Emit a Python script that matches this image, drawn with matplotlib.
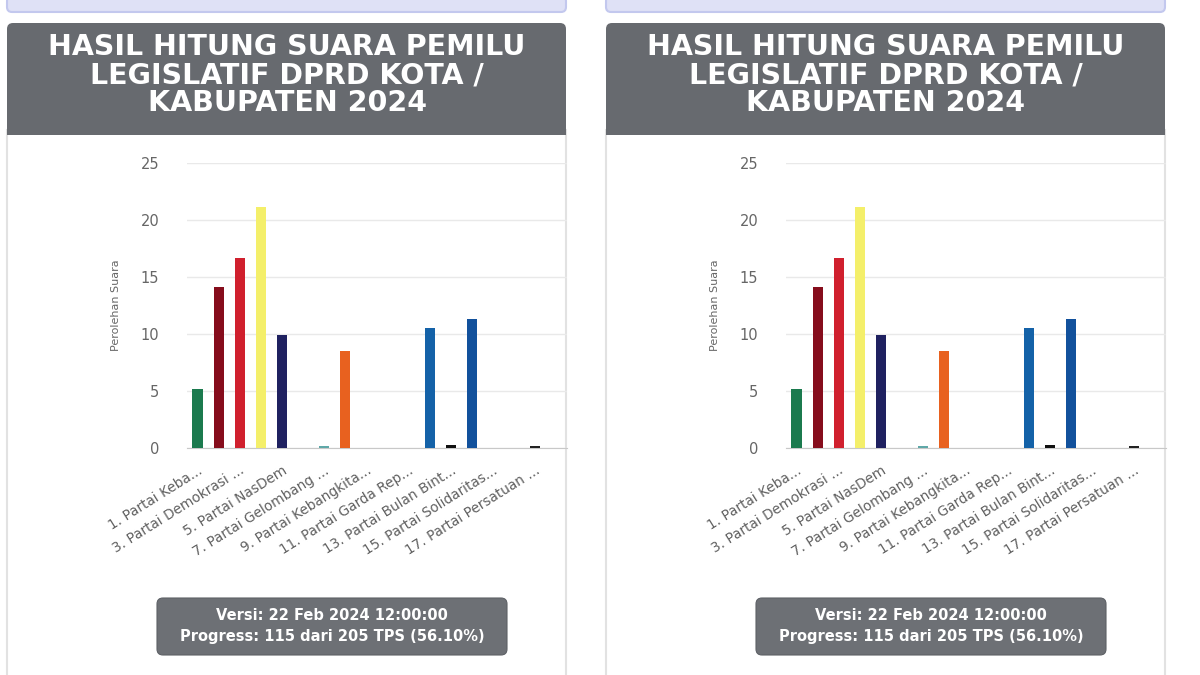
import matplotlib.pyplot as plt
from matplotlib.patches import FancyBboxPatch, Rectangle

# data (both panels show the same chart)
title_lines = ["HASIL HITUNG SUARA PEMILU", "LEGISLATIF DPRD KOTA /", "KABUPATEN 2024"]
party_labels = ["1. Partai Keba...", "2. Partai Gerak...", "3. Partai Demokrasi ...", "4. Partai Golon...",
                "5. Partai NasDem", "6. Partai Buruh", "7. Partai Gelombang ...", "8. Partai Keadi...",
                "9. Partai Kebangkita...", "10. Partai Hati ...", "11. Partai Garda Rep...", "12. Partai Amanat ...",
                "13. Partai Bulan Bint...", "14. Partai Demo...", "15. Partai Solidaritas...", "16. Partai Perindo",
                "17. Partai Persatuan ...", "24. Partai Ummat"]
votes = [5.2, 14.1, 16.7, 21.1, 9.95, 0, 0.15, 8.55, 0, 0, 0, 10.5, 0.3, 11.3, 0, 0, 0.15, 0]
bar_colors = ["#1b7a4e", "#860d1c", "#d0202e", "#f4ef6a", "#1f2160", "#888888", "#5fa8a8", "#e8611f",
              "#888888", "#888888", "#888888", "#1462a8", "#111111", "#12519c", "#888888", "#888888",
              "#222222", "#888888"]
y_ticks = [0, 5, 10, 15, 20, 25]
footer_lines = ["Versi: 22 Feb 2024 12:00:00", "Progress: 115 dari 205 TPS (56.10%)"]

W, H = 1200, 675
fig = plt.figure(figsize=(W / 100, H / 100), dpi=100)
fig.patch.set_facecolor("white")

# background axes in pixel coords for the card shapes
bg = fig.add_axes([0, 0, 1, 1])
bg.set_xlim(0, W)
bg.set_ylim(H, 0)
bg.axis("off")

HEADER = "#676a6f"
FOOT = "#6d7075"


def draw_panel(x0):
    # lavender strip on top
    bg.add_patch(FancyBboxPatch((x0, -4), 559, 16, boxstyle="round,pad=0,rounding_size=5",
                                facecolor="#dfe1f6", edgecolor="#c3c8ee", linewidth=1.5))
    # card border
    bg.add_patch(Rectangle((x0, 130), 559, 560, facecolor="white", edgecolor="#e2e2e2", linewidth=1.5))
    # header
    bg.add_patch(FancyBboxPatch((x0, 23), 559, 112, boxstyle="round,pad=0,rounding_size=6",
                                facecolor=HEADER, edgecolor="none"))
    bg.add_patch(Rectangle((x0, 110), 559, 25, facecolor=HEADER, edgecolor="none"))
    for i, line in enumerate(title_lines):
        bg.text(x0 + 280, 47 + i * 28, line, color="white", fontsize=20.5, fontweight="bold",
                ha="center", va="center")

    # footer box
    bg.add_patch(FancyBboxPatch((x0 + 150, 598), 350, 57, boxstyle="round,pad=0,rounding_size=6",
                                facecolor=FOOT, edgecolor="#5e6166", linewidth=0.8))
    for i, line in enumerate(footer_lines):
        bg.text(x0 + 325, 616 + i * 20, line, color="white", fontsize=10.5, fontweight="bold",
                ha="center", va="center")

    # the chart
    ax = fig.add_axes([(x0 + 180) / W, (H - 448) / H, 380 / W, (448 - 163) / H])
    xs = list(range(len(votes)))
    ax.bar(xs, votes, width=0.48, color=bar_colors, zorder=3)
    ax.set_xlim(-0.5, len(votes) - 0.5)
    ax.set_ylim(0, 25)
    ax.set_yticks(y_ticks)
    ax.set_yticklabels([str(t) for t in y_ticks])
    ax.set_xticks(xs[::2])
    ax.set_xticklabels(party_labels[::2], rotation=32, ha="right", va="top",
                       rotation_mode="anchor")
    ax.tick_params(axis="y", length=0, pad=20, labelsize=10.5, labelcolor="#666666")
    ax.tick_params(axis="x", length=0, pad=11, labelsize=9.8, labelcolor="#606060")
    ax.grid(axis="y", color="#e9e9e9", linewidth=1, zorder=0)
    for s in ["top", "right", "left"]:
        ax.spines[s].set_visible(False)
    ax.spines["bottom"].set_color("#c8c8c8")
    ax.set_facecolor("none")
    ax.set_ylabel("Perolehan Suara", fontsize=8, color="#666666", labelpad=14)


draw_panel(7)
draw_panel(606)

fig.savefig("out.png", dpi=100)
